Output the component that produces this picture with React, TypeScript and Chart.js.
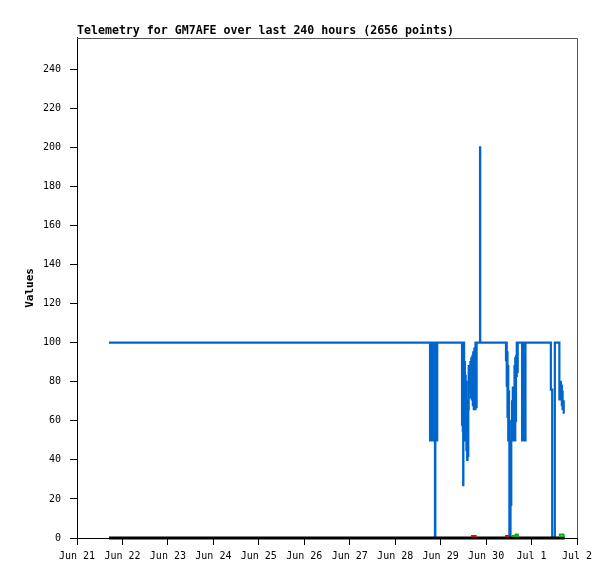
import React, { useEffect, useRef } from "react";
import { Chart, registerables } from "chart.js";

Chart.register(...registerables);

const TITLE = "Telemetry for GM7AFE over last 240 hours (2656 points)";
const Y_TITLE = "Values";

// x axis: hours since Jun 21 00:00
const xTickLabels = [
  "Jun 21", "Jun 22", "Jun 23", "Jun 24", "Jun 25", "Jun 26",
  "Jun 27", "Jun 28", "Jun 29", "Jun 30", "Jul 1", "Jul 2",
];
const X_MIN = 0;
const X_MAX = 264;
const X_STEP = 24;
const Y_MIN = 0;
const Y_MAX = 256;
const Y_STEP = 20;

// main channel (blue)
const blueSeries: [number, number][] = [
  [16.9, 100], [186.4, 100],
  [186.6, 50], [186.8, 100], [187.0, 50], [187.2, 100], [187.4, 50], [187.6, 100],
  [187.8, 50], [188.0, 100], [188.2, 50], [188.4, 100], [188.6, 50], [188.8, 100],
  [189.0, 50], [189.2, 0], [189.4, 50], [189.6, 100], [189.8, 50], [190.0, 100],
  [190.2, 50], [190.4, 100],
  [203.3, 100], [203.5, 58], [203.7, 100], [203.9, 55], [204.0, 27], [204.2, 60],
  [204.4, 100], [204.6, 50], [204.8, 90], [205.0, 52], [205.2, 83], [205.4, 50],
  [205.6, 80], [205.8, 45], [206.0, 66], [206.2, 40], [206.4, 70], [206.6, 42],
  [206.8, 66], [207.0, 88], [207.2, 75], [207.5, 88], [207.7, 76], [208.0, 90],
  [208.2, 72], [208.5, 92], [208.7, 71], [209.0, 93], [209.2, 68], [209.5, 95],
  [209.8, 66], [210.1, 97], [210.4, 66], [210.7, 100], [211.0, 67], [211.2, 100],
  [212.8, 100], [212.9, 200], [213.0, 100],
  [226.5, 100], [226.7, 91], [226.9, 100], [227.1, 78], [227.3, 95], [227.5, 62],
  [227.7, 88], [227.9, 50], [228.1, 75], [228.3, 50], [228.5, 0], [228.7, 48],
  [228.9, 0], [229.1, 50], [229.3, 17], [229.5, 60], [229.7, 50], [229.9, 70],
  [230.1, 54], [230.3, 77], [230.5, 55], [230.8, 75], [231.0, 50], [231.2, 88],
  [231.4, 50], [231.6, 92], [231.8, 60], [232.0, 93], [232.2, 83], [232.5, 100],
  [232.7, 85], [232.9, 100],
  [235.0, 100], [235.2, 50], [235.4, 100], [235.6, 50], [235.8, 100], [236.0, 50],
  [236.2, 100], [236.4, 50], [236.6, 100], [236.8, 50], [236.9, 100],
  [250.2, 100], [250.4, 76], [250.9, 76], [251.1, 0], [252.3, 0], [252.5, 100],
  [254.7, 100], [254.9, 71], [255.1, 80], [255.3, 72], [255.5, 80], [255.8, 73],
  [256.0, 78], [256.2, 68], [256.4, 75], [256.7, 66], [257.0, 70], [257.3, 64],
];

// zero channel (black)
const blackSeries: [number, number][] = [[16.9, 0], [257.5, 0]];

// small channels
const redSeriesA: [number, number][] = [[208.0, 1], [211.0, 1]];
const redSeriesB: [number, number][] = [[226.0, 1], [228.3, 1]];
const greenSeriesA: [number, number][] = [
  [229.5, 1], [231.5, 1], [231.6, 1.8], [232.7, 1.8], [232.8, 1], [233.2, 1],
];
const greenSeriesB: [number, number][] = [
  [254.7, 1], [254.9, 1], [255.0, 1.8], [256.8, 1.8], [256.9, 1], [257.5, 1],
];

const toXY = (s: [number, number][]) => s.map(([x, y]) => ({ x, y }));

const frameBorder = {
  id: "frameBorder",
  afterDraw(chart: any) {
    const { ctx, chartArea } = chart;
    const l = Math.round(chartArea.left);
    const t = Math.round(chartArea.top) + 0.5;
    const r = Math.round(chartArea.right) + 0.5;
    const b = Math.round(chartArea.bottom);
    ctx.save();
    ctx.strokeStyle = "#555555";
    ctx.lineWidth = 1;
    ctx.beginPath();
    ctx.moveTo(l, t);
    ctx.lineTo(r, t);
    ctx.lineTo(r, b);
    ctx.stroke();
    ctx.restore();
  },
};

export default function App() {
  const ref = useRef<HTMLCanvasElement | null>(null);

  useEffect(() => {
    if (!ref.current) return;
    const mono = "'DejaVu Sans Mono', 'Liberation Mono', monospace";
    const line = (
      data: [number, number][],
      color: string,
      width: number,
      stepped: any = false
    ) => ({
      data: toXY(data),
      borderColor: color,
      backgroundColor: color,
      borderWidth: width,
      pointRadius: 0,
      tension: 0,
      stepped,
      fill: false,
      clip: false as any,
    });
    const chart = new Chart(ref.current, {
      type: "line",
      data: {
        datasets: [
          line(greenSeriesA, "#00b400", 2),
          line(greenSeriesB, "#00b400", 2),
          line(redSeriesA, "#e00000", 2),
          line(redSeriesB, "#e00000", 2),
          line(blackSeries, "#000000", 3),
          line(blueSeries, "#0066cc", 2.2, "after"),
        ],
      },
      options: {
        animation: false,
        responsive: false,
        parsing: false as any,
        normalized: true,
        layout: { padding: { top: 24, right: 38, left: 0, bottom: 0 } },
        plugins: {
          legend: { display: false },
          tooltip: { enabled: false },
          title: {
            display: true,
            text: TITLE,
            align: "start",
            fullSize: false,
            color: "#000",
            font: { family: mono, size: 11.6, weight: "bold" },
            padding: { top: 0, bottom: 0 },
          },
        },
        scales: {
          x: {
            type: "linear",
            min: X_MIN,
            max: X_MAX,
            afterFit: (s: any) => {
              s.height = 41;
            },
            ticks: {
              stepSize: X_STEP,
              autoSkip: false,
              maxRotation: 0,
              minRotation: 0,
              padding: 5,
              color: "#000",
              font: { family: mono, size: 10 },
              callback: (v: any) => {
                const i = Math.round(Number(v) / X_STEP);
                return xTickLabels[i] ?? "";
              },
            },
            grid: {
              drawOnChartArea: false,
              drawTicks: true,
              tickLength: 7,
              tickColor: "#000",
            },
            border: { color: "#000", width: 1 },
          },
          y: {
            type: "linear",
            min: Y_MIN,
            max: Y_MAX,
            afterFit: (s: any) => {
              s.width = 77;
            },
            ticks: {
              stepSize: Y_STEP,
              includeBounds: false,
              padding: 9,
              color: "#000",
              font: { family: mono, size: 10 },
            },
            grid: {
              drawOnChartArea: false,
              drawTicks: true,
              tickLength: 7,
              tickColor: "#000",
            },
            border: { color: "#000", width: 1 },
            title: {
              display: true,
              text: Y_TITLE,
              color: "#000",
              font: { family: mono, size: 11, weight: "bold" },
              padding: { top: 24, bottom: 0 },
            },
          },
        },
      },
      plugins: [frameBorder],
    });
    return () => chart.destroy();
  }, []);

  return (
    <div
      style={{
        position: "fixed",
        left: 0,
        top: 0,
        width: 615,
        height: 579,
        background: "#fff",
      }}
    >
      <canvas ref={ref} width={615} height={579} style={{ display: "block" }} />
    </div>
  );
}
